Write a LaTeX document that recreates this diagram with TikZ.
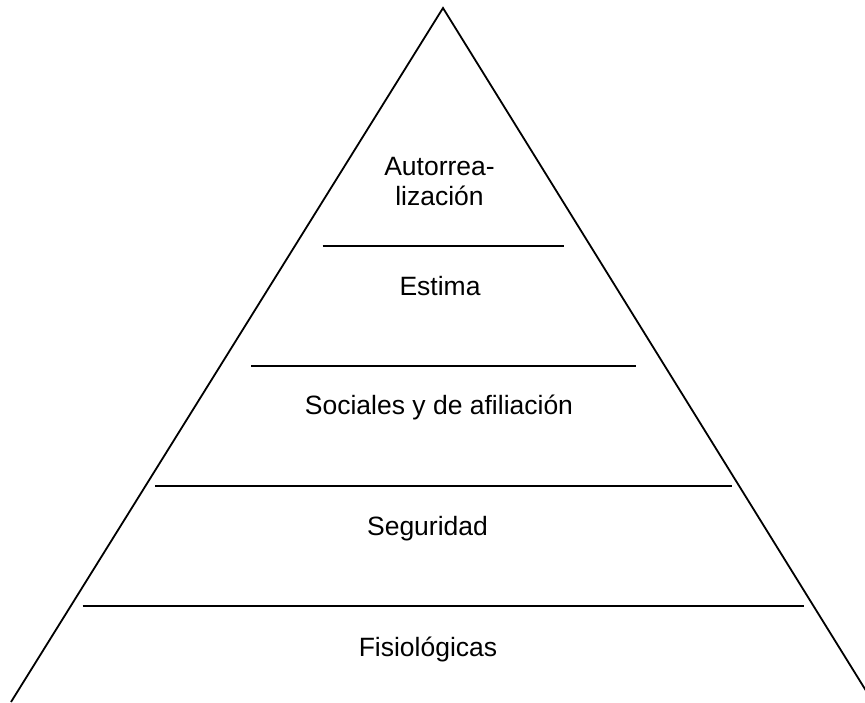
\documentclass[tikz,border=0pt]{standalone}
\usepackage{fontspec}
\setmainfont{Liberation Sans}
\begin{document}
\begin{tikzpicture}[x=1pt,y=-1pt,
  edge/.style={line width=1.8pt,line cap=butt},
  lvl/.style={font=\fontsize{26.5}{29.5}\selectfont,inner sep=0pt,align=center,anchor=base}]
\useasboundingbox (0,0) rectangle (865,702);
\clip (0,0) rectangle (865,702);
\coordinate (apex) at (443,8);
\coordinate (bl) at (11,702);
\coordinate (br) at (873,702);
\draw[edge,line join=miter] (bl) -- (apex) -- (br);
\coordinate (l1a) at (322.7,245.7); \coordinate (l1b) at (564,245.7);
\coordinate (l2a) at (251,365.7);   \coordinate (l2b) at (635.7,365.7);
\coordinate (l3a) at (155,485.7);   \coordinate (l3b) at (732,485.7);
\coordinate (l4a) at (82.7,605.7);  \coordinate (l4b) at (804,605.7);
\draw[edge] (l1a) -- (l1b);
\draw[edge] (l2a) -- (l2b);
\draw[edge] (l3a) -- (l3b);
\draw[edge] (l4a) -- (l4b);
\node[lvl] (auto) at (439.5,205) {Autorrea-\\lización};
\node[lvl] (est) at (440,295) {Estima};
\node[lvl] (soc) at (439,414.3) {Sociales y de afiliación};
\node[lvl] (seg) at (427.5,535) {Seguridad};
\node[lvl] (fis) at (428,656.7) {Fisiológicas};
\end{tikzpicture}
\end{document}
